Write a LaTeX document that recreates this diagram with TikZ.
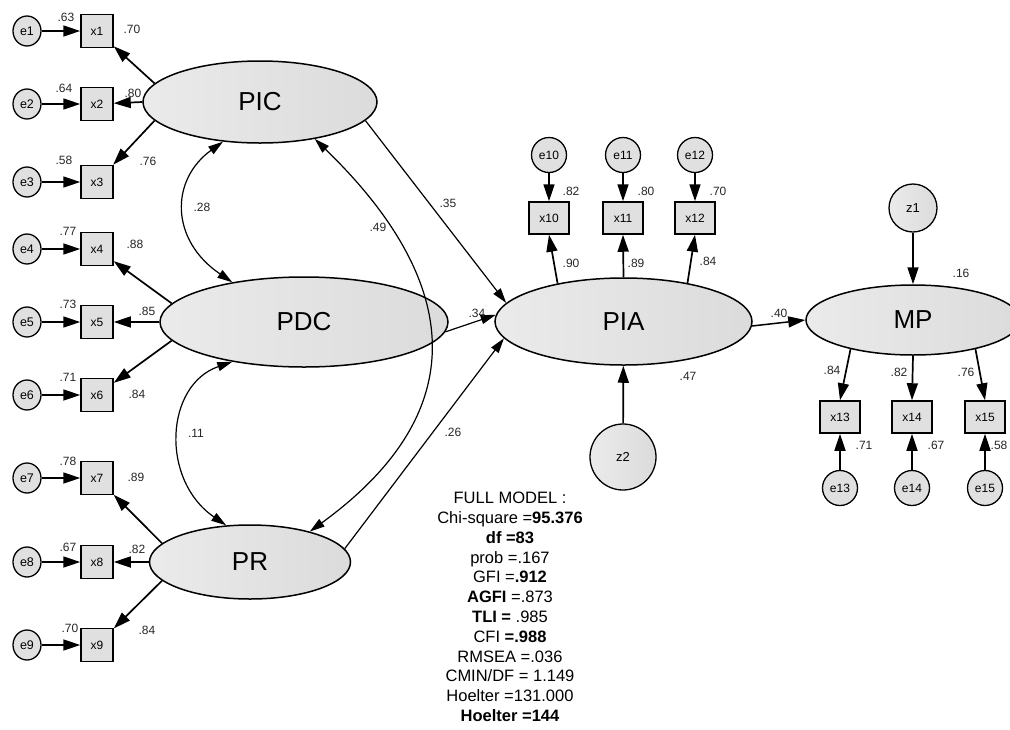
\documentclass[tikz,border=0pt]{standalone}
\usepackage{fontspec}
\setmainfont{Liberation Sans}
\usetikzlibrary{shapes.geometric,arrows.meta}
\begin{document}
\begin{tikzpicture}[x=1pt,y=-1pt,
  lat/.style={ellipse,draw,line width=1.5pt,left color=black!8,right color=black!14,inner sep=0pt,font=\fontsize{26}{26}\selectfont},
  obs/.style={rectangle,draw,line width=1.5pt,fill=black!12,minimum width=32pt,minimum height=33pt,inner sep=0pt,font=\fontsize{12}{12}\selectfont},
  obsw/.style={obs,minimum width=40pt,minimum height=32pt},
  err/.style={ellipse,draw,line width=1.3pt,fill=black!12,minimum width=28pt,minimum height=30pt,inner sep=0pt,font=\fontsize{12.5}{12.5}\selectfont},
  errc/.style={circle,draw,line width=1.3pt,fill=black!12,minimum size=35pt,inner sep=0pt,font=\fontsize{12}{12}\selectfont},
  dist/.style={circle,draw,line width=1.3pt,left color=black!8,right color=black!14,inner sep=0pt,font=\fontsize{13}{13}\selectfont},
  arr/.style={-{Triangle[length=17pt,width=11pt]},line width=1.7pt},
  pth/.style={-{Triangle[length=15pt,width=9pt]},line width=1.2pt},
  cov/.style={{Triangle[length=15pt,width=9pt]}-{Triangle[length=15pt,width=9pt]},line width=1.2pt},
  lbl/.style={font=\fontsize{12}{12}\selectfont,text=black!85,inner sep=0pt},
]
\useasboundingbox (0,0) rectangle (1010,729);

% latent variables
\node[lat,minimum width=234pt,minimum height=82pt] (PIC) at (260,102) {PIC};
\node[lat,minimum width=288pt,minimum height=90pt] (PDC) at (304,322) {PDC};
\node[lat,minimum width=201pt,minimum height=74pt] (PR) at (250,562) {PR};
\node[lat,minimum width=257pt,minimum height=87pt] (PIA) at (623.5,321.5) {PIA};
\node[lat,minimum width=214pt,minimum height=70pt] (MP) at (913,320) {MP};

% indicators left
\foreach \i/\y in {1/31,2/104,3/182,4/249,5/322,6/395,7/478,8/562,9/645}{
  \node[err] (e\i) at (27,\y) {e\i};
  \node[obs] (x\i) at (97,\y) {x\i};
  \draw[arr] (e\i) -- (x\i);
}

% indicators PIA
\node[errc] (e10) at (549,155) {e10};
\node[errc] (e11) at (623,155) {e11};
\node[errc] (e12) at (695,155) {e12};
\node[obsw] (x10) at (549,218) {x10};
\node[obsw] (x11) at (623,218) {x11};
\node[obsw] (x12) at (695,218) {x12};
\draw[arr] (e10) -- (x10);
\draw[arr] (e11) -- (x11);
\draw[arr] (e12) -- (x12);
\draw[arr] (PIA.150) -- (x10.south);
\draw[arr] (PIA.north) -- (x11.south);
\draw[arr] (PIA.31) -- (x12.south);

% indicators MP
\node[obsw] (x13) at (840,417) {x13};
\node[obsw] (x14) at (912,417) {x14};
\node[obsw] (x15) at (985,417) {x15};
\node[errc] (e13) at (840,488) {e13};
\node[errc] (e14) at (912,488) {e14};
\node[errc] (e15) at (985,488) {e15};
\draw[arr] (e13) -- (x13);
\draw[arr] (e14) -- (x14);
\draw[arr] (e15) -- (x15);
\draw[arr] (MP.205) -- (x13.north);
\draw[arr] (MP.south) -- (x14.north);
\draw[arr] (MP.-25) -- (x15.north);

% disturbances
\node[dist,minimum size=48pt] (z1) at (913,208) {z1};
\node[dist,minimum size=66pt] (z2) at (623,457) {z2};
\draw[arr] (z1) -- (MP);
\draw[arr] (z2) -- (PIA);

% loadings left
\draw[arr] (PIC.170) -- (x1);
\draw[arr] (PIC.west) -- (x2);
\draw[arr] (PIC.190) -- (x3);
\draw[arr] (PDC.172) -- (x4);
\draw[arr] (PDC.west) -- (x5);
\draw[arr] (PDC.188) -- (x6);
\draw[arr] (PR.168) -- (x7);
\draw[arr] (PR.west) -- (x8);
\draw[arr] (PR.192) -- (x9);

% structural paths
\draw[pth] (PIC.-10) -- (PIA.171);
\draw[pth] (PDC.-4) -- (PIA.177);
\draw[pth] (PR.8) -- (PIA.188);
\draw[arr,line width=1.5pt] (PIA.-2) -- (MP.west);

% covariances
\draw[cov] (PIC.227) .. controls (170,180) and (170,240) .. (PDC.151);
\draw[cov] (PDC.209) .. controls (165,385) and (160,480) .. (PR.123);
\draw[cov] (PIC.-34) .. controls (440,260) and (495,397) .. (PR.27);

% labels
\node[lbl] (l1) at (66,17) {.63};
\node[lbl] (l2) at (64,88) {.64};
\node[lbl] (l3) at (64,160) {.58};
\node[lbl] (l4) at (68,231) {.77};
\node[lbl] (l5) at (68,304) {.73};
\node[lbl] (l6) at (68,377) {.71};
\node[lbl] (l7) at (68,461) {.78};
\node[lbl] (l8) at (68,547) {.67};
\node[lbl] (l9) at (70,628) {.70};
\node[lbl] (m1) at (132,29) {.70};
\node[lbl] (m2) at (133,93) {.80};
\node[lbl] (m3) at (148,161) {.76};
\node[lbl] (m4) at (135,244) {.88};
\node[lbl] (m5) at (147,311) {.85};
\node[lbl] (m6) at (137,394) {.84};
\node[lbl] (m7) at (136,477) {.89};
\node[lbl] (m8) at (137,549) {.82};
\node[lbl] (m9) at (147,630) {.84};
\node[lbl] (c1) at (202,207) {.28};
\node[lbl] (c2) at (378,227) {.49};
\node[lbl] (c3) at (196,433) {.11};
\node[lbl] (s1) at (448,203) {.35};
\node[lbl] (s2) at (477,313) {.34};
\node[lbl] (s3) at (453,432) {.26};
\node[lbl] (s4) at (779,313) {.40};
\node[lbl] (r1) at (688,376) {.47};
\node[lbl] (r2) at (961,273) {.16};
\node[lbl] (p1) at (571,191) {.82};
\node[lbl] (p2) at (646,191) {.80};
\node[lbl] (p3) at (718,191) {.70};
\node[lbl] (p4) at (571,263) {.90};
\node[lbl] (p5) at (636,263) {.89};
\node[lbl] (p6) at (708,261) {.84};
\node[lbl] (q1) at (832,370) {.84};
\node[lbl] (q2) at (899,372) {.82};
\node[lbl] (q3) at (966,372) {.76};
\node[lbl] (q4) at (864,445) {.71};
\node[lbl] (q5) at (936,445) {.67};
\node[lbl] (q6) at (999,445) {.58};

% fit statistics
\node[align=center,inner sep=0pt,font=\fontsize{16.5}{19.8}\selectfont] (fit) at (510,607) {%
FULL MODEL :\\
Chi-square =\textbf{95.376}\\
\textbf{df =83}\\
prob =.167\\
GFI =\textbf{.912}\\
\textbf{AGFI} =.873\\
\textbf{TLI =} .985\\
CFI \textbf{=.988}\\
RMSEA =.036\\
CMIN/DF = 1.149\\
Hoelter =131.000\\
\textbf{Hoelter =144}};
\end{tikzpicture}
\end{document}
